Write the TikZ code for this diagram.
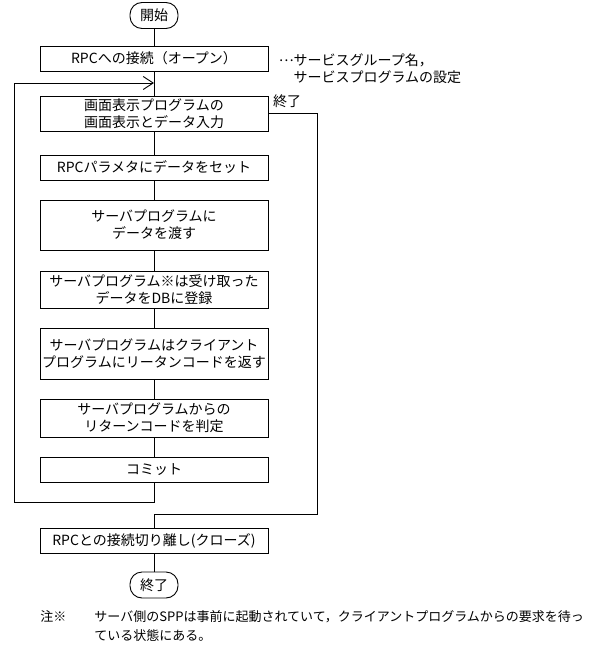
\documentclass[tikz,border=0pt]{standalone}
\usepackage{fontspec}
\setmainfont{Noto Sans CJK JP}
\usepackage{tikz}
\usetikzlibrary{arrows.meta}

\begin{document}
\begin{tikzpicture}[
    >={Straight Barb[length=10pt,width=13pt]},
    x=1pt, y=-1pt,
    line width=0.9pt,
    every node/.style={font=\fontsize{14pt}{17pt}\selectfont},
    proc/.style={draw,minimum width=228pt,inner sep=1pt,align=center},
    term/.style={draw,rounded corners=12pt,minimum width=48pt,minimum height=26pt,inner sep=1pt},
    small/.style={font=\fontsize{13pt}{19pt}\selectfont},
    flow/.style={-},
    back/.style={->},
  ]
  \useasboundingbox (0,0) rectangle (599,658);

  % --- terminals and process boxes, top to bottom ---
  \node[term] (start) at (154,15.5) {開始};
  \node[proc,minimum height=25pt] (open)   at (154,58.5)  {RPCへの接続（オープン）};
  \node[proc,minimum height=35pt] (input)  at (154,113.5) {画面表示プログラムの\\画面表示とデータ入力};
  \node[proc,minimum height=25pt] (param)  at (154,167.5) {RPCパラメタにデータをセット};
  \node[proc,minimum height=50pt] (pass)   at (154,225)   {サーバプログラムに\\データを渡す};
  \node[proc,minimum height=37pt] (regist) at (154,289.5) {サーバプログラム※は受け取った\\データをDBに登録};
  \node[proc,minimum height=51pt] (reply)  at (154,353.5) {サーバプログラムはクライアント\\プログラムにリータンコードを返す};
  \node[proc,minimum height=38pt] (judge)  at (154,418)   {サーバプログラムからの\\リターンコードを判定};
  \node[proc,minimum height=25pt] (commit) at (154,469.5) {コミット};
  \node[proc,minimum height=25pt] (close)  at (154,540.5) {RPCとの接続切り離し(クローズ)};
  \node[term] (stop) at (154,585) {終了};

  % --- side texts ---
  \node[anchor=west,align=left] (setting) at (275,68.5)
    {\raisebox{4pt}{…}サービスグループ名，\\\phantom{…}サービスプログラムの設定};
  \node (exitlbl) at (287,101) {終了};

  % --- loop and exit turning points ---
  \coordinate (join)  at (154,83);
  \coordinate (loopL) at (14,502);
  \coordinate (exitR) at (317,514);

  % --- main flow ---
  \draw[flow] (start) -- (open);
  \draw[flow] (open) -- (input);
  \foreach \a/\b in {input/param,param/pass,pass/regist,regist/reply,reply/judge,judge/commit}
    { \draw[flow] (\a) -- (\b); }
  \draw[flow] (close) -- (stop);

  % --- repeat back to input, exit to close ---
  \draw[back] (commit) |- (loopL) |- (join);
  \draw[flow] (input) -| (exitR) -| (close);

  % --- footnote ---
  \node[small,anchor=north west,inner sep=0pt] (chu) at (40,610) {注※};
  \node[small,anchor=north west,align=left,inner sep=0pt] (footnote) at (94,610)
    {サーバ側のSPPは事前に起動されていて，クライアントプログラムからの要求を待っ\\ている状態にある。};

\end{tikzpicture}
\end{document}
